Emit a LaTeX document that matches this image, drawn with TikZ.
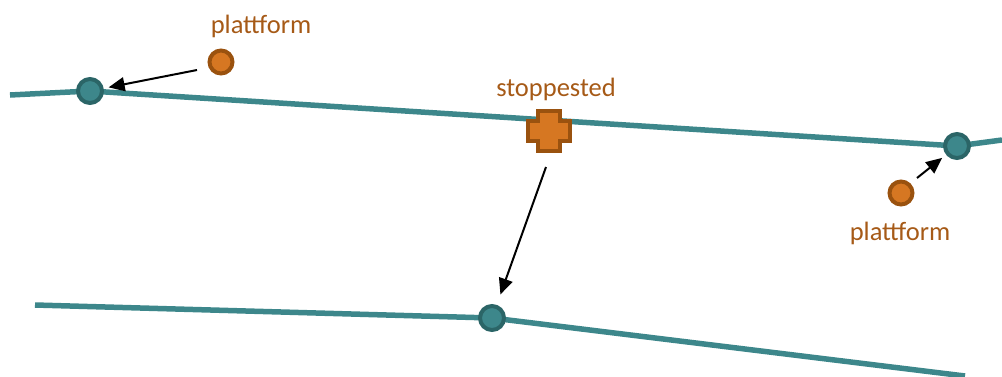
\documentclass[tikz,border=0pt]{standalone}
\usepackage{fontspec}
\setmainfont{Carlito}
\usetikzlibrary{arrows.meta}
\definecolor{linje}{HTML}{3D878B}
\definecolor{punktkant}{HTML}{2B6567}
\definecolor{oransje}{HTML}{D67722}
\definecolor{oransjekant}{HTML}{9A520F}
\definecolor{tekst}{HTML}{A65A17}
\tikzset{
  linkpoint/.style={circle,draw=punktkant,fill=linje,line width=4pt,minimum size=24pt,inner sep=0pt},
  platform/.style={circle,draw=oransjekant,fill=oransje,line width=4pt,minimum size=23pt,inner sep=0pt},
  label/.style={text=tekst,font=\fontsize{26.5}{30}\selectfont,inner sep=0pt},
  route/.style={linje,line width=5.5pt},
  snap/.style={-{Triangle[length=16pt,width=14pt]},line width=2pt,shorten >=5pt}
}
\begin{document}
\begin{tikzpicture}[x=1pt,y=-1pt]
      \useasboundingbox (0,0) rectangle (1002,376);
      % ends of the two routes
      \coordinate (a0) at (10,95);
      \coordinate (a3) at (1002,140);
      \coordinate (b0) at (35,305);
      \coordinate (b2) at (965,376);
      % points on the routes
      \coordinate (a1) at (90,91);
      \coordinate (a2) at (957,146);
      \coordinate (b1) at (492,318);
      \draw[route] (a0) -- (a1) -- (a2) -- (a3);
      \draw[route] (b0) -- (b1) -- (b2);
      \node[linkpoint] (l1) at (a1) {};
      \node[linkpoint] (l2) at (a2) {};
      \node[linkpoint] (l3) at (b1) {};
      % platforms
      \node[platform] (p1) at (221,62) {};
      \node[platform] (p2) at (901,193) {};
      \node[label] (t1) at (261,26) {plattform};
      \node[label] (t2) at (900,233) {plattform};
      % stop place
      \coordinate (s) at (549,131);
      \begin{scope}[shift={(s)}]
        \draw[draw=oransjekant,fill=oransje,line width=4pt,line join=miter]
          (-11,-20) -- (11,-20) -- (11,-10) -- (21,-10) -- (21,10) -- (11,10)
          -- (11,20) -- (-11,20) -- (-11,10) -- (-21,10) -- (-21,-10) -- (-11,-10) -- cycle;
      \end{scope}
      \node[label] (t3) at (556,89) {stoppested};
      % where the arrows start
      \coordinate (f1) at (197,70);
      \coordinate (f2) at (917,178);
      \coordinate (f3) at (546,167);
      \begin{scope}[snap]
        \draw (f1) to (l1);
        \draw (f2) to (l2);
        \draw[shorten >=11pt] (f3) to (l3);
      \end{scope}
    \end{tikzpicture}
\end{document}
